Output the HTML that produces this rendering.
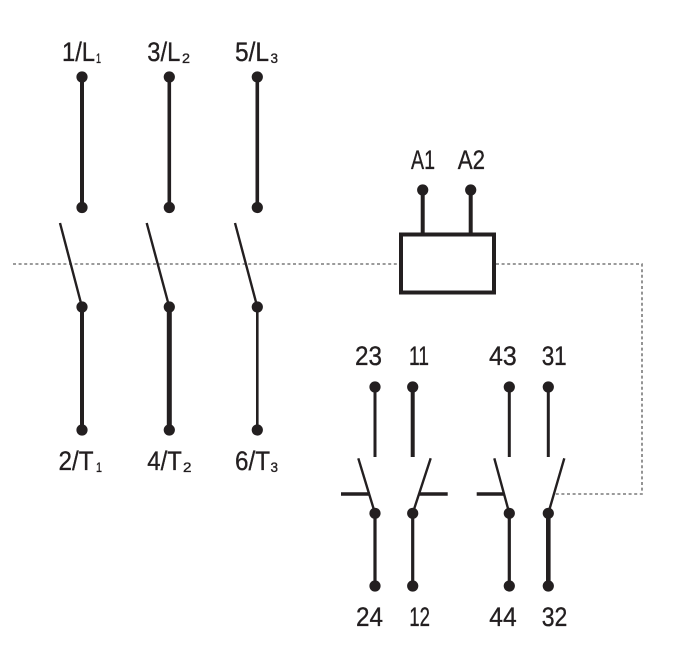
<!DOCTYPE html>
<html><head><meta charset="utf-8">
<style>
html,body{margin:0;padding:0;background:#fff;}
svg{display:block;}
text{font-family:"Liberation Sans",sans-serif;fill:#231f20;stroke:#231f20;stroke-width:0.35;}
</style></head>
<body>
<svg width="690" height="658" viewBox="0 0 690 658" xmlns="http://www.w3.org/2000/svg">
<!-- dotted mechanical linkage -->
<g stroke="#7a7a7a" stroke-width="1.6" stroke-dasharray="3 2.6" fill="none">
  <line x1="13" y1="264" x2="400" y2="264"/>
  <polyline points="496,264 642,264 642,494 554,494"/>
</g>

<g stroke="#231f20" fill="none" stroke-linecap="butt">
  <!-- main poles top segments -->
  <line x1="82" y1="77" x2="82" y2="207" stroke-width="4"/>
  <line x1="169.3" y1="77" x2="169.3" y2="207" stroke-width="3.6"/>
  <line x1="257.3" y1="77" x2="257.3" y2="207" stroke-width="3.6"/>
  <!-- blades -->
  <line x1="60" y1="223" x2="82" y2="307" stroke-width="2.4"/>
  <line x1="146.7" y1="223" x2="169.3" y2="307" stroke-width="2.4"/>
  <line x1="235" y1="223" x2="257.3" y2="307" stroke-width="2.4"/>
  <!-- bottom segments -->
  <line x1="82" y1="307" x2="82" y2="430" stroke-width="4"/>
  <line x1="169.3" y1="307" x2="169.3" y2="430" stroke-width="5"/>
  <line x1="257.3" y1="307" x2="257.3" y2="430" stroke-width="2.6"/>

  <!-- coil -->
  <line x1="422.7" y1="190" x2="422.7" y2="234" stroke-width="4"/>
  <line x1="470.7" y1="190" x2="470.7" y2="234" stroke-width="4"/>
  <rect x="401" y="234.5" width="93" height="58" stroke-width="4" fill="#fff"/>

  <!-- aux contacts top -->
  <line x1="375" y1="387" x2="375" y2="457" stroke-width="3"/>
  <line x1="412.7" y1="387" x2="412.7" y2="457" stroke-width="4"/>
  <line x1="509.3" y1="387" x2="509.3" y2="457" stroke-width="3"/>
  <line x1="548.3" y1="387" x2="548.3" y2="457" stroke-width="3"/>
  <!-- aux blades -->
  <line x1="358.3" y1="458.3" x2="375" y2="513.3" stroke-width="2.4"/>
  <line x1="430.7" y1="458.3" x2="412.7" y2="513.3" stroke-width="2.4"/>
  <line x1="494.3" y1="458.3" x2="509.3" y2="513.3" stroke-width="2.4"/>
  <line x1="564.3" y1="458.3" x2="548.3" y2="513.3" stroke-width="2.4"/>
  <!-- bars -->
  <line x1="341" y1="494" x2="370" y2="494" stroke-width="3.5"/>
  <line x1="419" y1="494" x2="447.7" y2="494" stroke-width="3.5"/>
  <line x1="476.7" y1="494" x2="504.5" y2="494" stroke-width="3.5"/>
  <!-- aux bottom -->
  <line x1="375" y1="513" x2="375" y2="586" stroke-width="3.2"/>
  <line x1="412.7" y1="513" x2="412.7" y2="586" stroke-width="3.2"/>
  <line x1="509.3" y1="513" x2="509.3" y2="586" stroke-width="3.2"/>
  <line x1="548.3" y1="513" x2="548.3" y2="586" stroke-width="4.6"/>
</g>

<g fill="#231f20">
  <circle cx="82" cy="77" r="5.6"/><circle cx="169.3" cy="77" r="5.6"/><circle cx="257.3" cy="77" r="5.6"/>
  <circle cx="82" cy="207.5" r="5.6"/><circle cx="169.3" cy="207.5" r="5.6"/><circle cx="257.3" cy="207.5" r="5.6"/>
  <circle cx="82" cy="307" r="5.6"/><circle cx="169.3" cy="307" r="5.6"/><circle cx="257.3" cy="307" r="5.6"/>
  <circle cx="82" cy="430" r="5.6"/><circle cx="169.3" cy="430" r="5.6"/><circle cx="257.3" cy="430" r="5.6"/>
  <circle cx="422.7" cy="190" r="5.6"/><circle cx="470.7" cy="190" r="5.6"/>
  <circle cx="375" cy="387" r="5.6"/><circle cx="412.7" cy="387" r="5.6"/><circle cx="509.3" cy="387" r="5.6"/><circle cx="548.3" cy="387" r="5.6"/>
  <circle cx="375" cy="513.3" r="5.6"/><circle cx="412.7" cy="513.3" r="5.6"/><circle cx="509.3" cy="513.3" r="5.6"/><circle cx="548.3" cy="513.3" r="5.6"/>
  <circle cx="375" cy="586" r="5.6"/><circle cx="412.7" cy="586" r="5.6"/><circle cx="509.3" cy="586" r="5.6"/><circle cx="548.3" cy="586" r="5.6"/>
</g>

<!-- labels -->
<g font-size="27">
  <text x="62" y="61" textLength="33" lengthAdjust="spacingAndGlyphs">1/L</text>
  <text x="147.3" y="61" textLength="33" lengthAdjust="spacingAndGlyphs">3/L</text>
  <text x="235" y="61" textLength="34" lengthAdjust="spacingAndGlyphs">5/L</text>

  <text x="58.5" y="470" textLength="35" lengthAdjust="spacingAndGlyphs">2/T</text>
  <text x="147.3" y="470" textLength="34.5" lengthAdjust="spacingAndGlyphs">4/T</text>
  <text x="235" y="470" textLength="35" lengthAdjust="spacingAndGlyphs">6/T</text>

  <text x="411" y="169" textLength="24" lengthAdjust="spacingAndGlyphs">A1</text>
  <text x="457.7" y="169" textLength="27.3" lengthAdjust="spacingAndGlyphs">A2</text>

  <text x="355" y="365" textLength="27" lengthAdjust="spacingAndGlyphs">23</text>
  <text x="409" y="365" textLength="20" lengthAdjust="spacingAndGlyphs">11</text>
  <text x="489" y="365" textLength="27.7" lengthAdjust="spacingAndGlyphs">43</text>
  <text x="541.7" y="365" textLength="25" lengthAdjust="spacingAndGlyphs">31</text>

  <text x="356" y="626" textLength="27" lengthAdjust="spacingAndGlyphs">24</text>
  <text x="409.3" y="626" textLength="20.7" lengthAdjust="spacingAndGlyphs">12</text>
  <text x="489.3" y="626" textLength="27.4" lengthAdjust="spacingAndGlyphs">44</text>
  <text x="541.7" y="626" textLength="25.6" lengthAdjust="spacingAndGlyphs">32</text>
</g>
<g font-size="14">
  <text x="96" y="63" textLength="5" lengthAdjust="spacingAndGlyphs">1</text>
  <text x="182" y="63" textLength="8" lengthAdjust="spacingAndGlyphs">2</text>
  <text x="270.5" y="63" textLength="7.5" lengthAdjust="spacingAndGlyphs">3</text>

  <text x="96" y="472" textLength="6" lengthAdjust="spacingAndGlyphs">1</text>
  <text x="183" y="472" textLength="8.5" lengthAdjust="spacingAndGlyphs">2</text>
  <text x="270.5" y="472" textLength="7.5" lengthAdjust="spacingAndGlyphs">3</text>
</g>
</svg>
</body></html>
